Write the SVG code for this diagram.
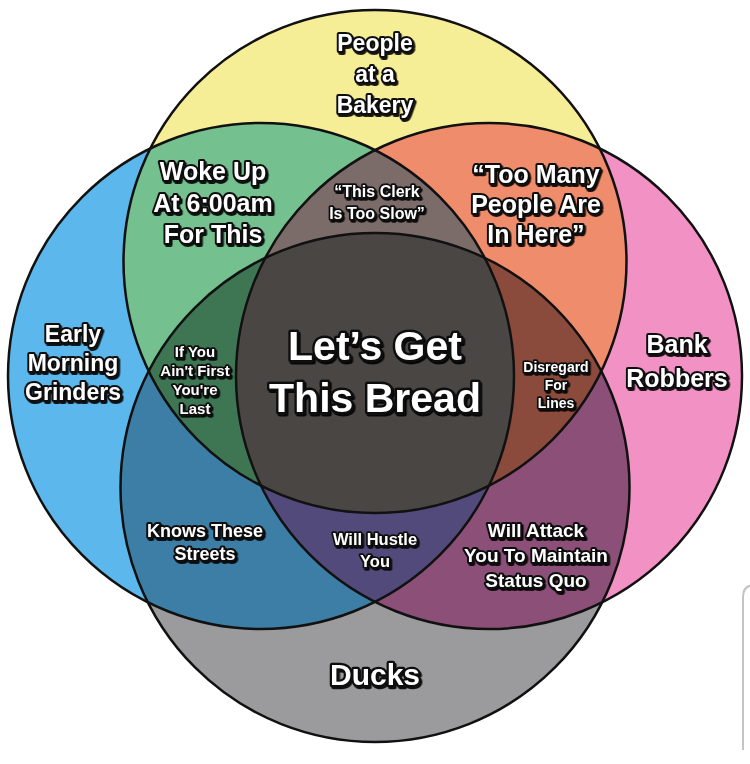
<svg xmlns="http://www.w3.org/2000/svg" width="750" height="764" viewBox="0 0 750 764">
<defs>
<clipPath id="cY"><circle cx="375" cy="261.5" r="251.5"/></clipPath>
<clipPath id="cB"><circle cx="261" cy="376" r="253"/></clipPath>
<clipPath id="cP"><circle cx="489" cy="376" r="253"/></clipPath>
<clipPath id="cG"><circle cx="375" cy="487.5" r="254.5"/></clipPath>
<filter id="sh" x="-10%" y="-10%" width="130%" height="140%">
<feDropShadow dx="1.5" dy="2" stdDeviation="0.6" flood-color="#000" flood-opacity="0.9"/>
</filter>
<style>
.lbl{font-family:"Liberation Sans",Arial,sans-serif;font-weight:bold;fill:#fff;stroke:#111;stroke-linejoin:round;paint-order:stroke;text-anchor:middle;filter:url(#sh)}
.ol{fill:none;stroke:#111;stroke-width:2.5}
</style>
</defs>
<rect width="750" height="764" fill="#fff"/>
<path d="M743 750 V597 Q743 585 755 585" fill="none" stroke="#c4c4c4" stroke-width="2"/>
<g id="regions">
<circle cx="375" cy="261.5" r="251.5" fill="#f6ee96"/>
<circle cx="261" cy="376" r="253" fill="#5cb8ec"/>
<circle cx="489" cy="376" r="253" fill="#f291c3"/>
<circle cx="375" cy="487.5" r="254.5" fill="#9b9b9d"/>
<g clip-path="url(#cY)"><circle cx="261" cy="376" r="253" fill="#74c08f"/><circle cx="489" cy="376" r="253" fill="#ef8c6c"/></g>
<g clip-path="url(#cG)"><circle cx="261" cy="376" r="253" fill="#3c7ea6"/><circle cx="489" cy="376" r="253" fill="#8c5078"/></g>
<g clip-path="url(#cY)"><g clip-path="url(#cB)"><circle cx="489" cy="376" r="253" fill="#7b6b69"/><circle cx="375" cy="487.5" r="254.5" fill="#3e7654"/></g></g>
<g clip-path="url(#cY)"><g clip-path="url(#cP)"><circle cx="375" cy="487.5" r="254.5" fill="#8a4a3c"/></g></g>
<g clip-path="url(#cB)"><g clip-path="url(#cP)"><circle cx="375" cy="487.5" r="254.5" fill="#514a7a"/></g></g>
<g clip-path="url(#cY)"><g clip-path="url(#cB)"><g clip-path="url(#cP)"><circle cx="375" cy="487.5" r="254.5" fill="#4a4644"/></g></g></g>
</g>
<g id="connectors">
<circle class="ol" cx="375" cy="261.5" r="251.5"/>
<circle class="ol" cx="261" cy="376" r="253"/>
<circle class="ol" cx="489" cy="376" r="253"/>
<circle class="ol" cx="375" cy="487.5" r="254.5"/>
</g>
<g id="bakery"><text class="lbl" font-size="23" stroke-width="4"><tspan x="375" y="51">People</tspan><tspan x="375" y="82">at a</tspan><tspan x="375" y="113">Bakery</tspan></text></g>
<g id="woke"><text class="lbl" font-size="25" stroke-width="4"><tspan x="213" y="180">Woke Up</tspan><tspan x="213" y="212">At 6:00am</tspan><tspan x="213" y="243">For This</tspan></text></g>
<g id="clerk"><text class="lbl" font-size="16" stroke-width="3.5"><tspan x="377" y="197">“This Clerk</tspan><tspan x="377" y="219">Is Too Slow”</tspan></text></g>
<g id="toomany"><text class="lbl" font-size="25" stroke-width="4"><tspan x="536" y="183">“Too Many</tspan><tspan x="536" y="213">People Are</tspan><tspan x="536" y="243">In Here”</tspan></text></g>
<g id="early"><text class="lbl" font-size="23" stroke-width="4"><tspan x="73" y="342">Early</tspan><tspan x="73" y="371">Morning</tspan><tspan x="73" y="400">Grinders</tspan></text></g>
<g id="first"><text class="lbl" font-size="15" stroke-width="3.5"><tspan x="195" y="357">If You</tspan><tspan x="195" y="376">Ain't First</tspan><tspan x="195" y="395">You're</tspan><tspan x="195" y="414">Last</tspan></text></g>
<g id="bread"><text class="lbl" font-size="41" stroke-width="5"><tspan x="375" y="360">Let’s Get</tspan><tspan x="375" y="412">This Bread</tspan></text></g>
<g id="disregard"><text class="lbl" font-size="14" stroke-width="3.5"><tspan x="556" y="372">Disregard</tspan><tspan x="556" y="390">For</tspan><tspan x="556" y="408">Lines</tspan></text></g>
<g id="bank"><text class="lbl" font-size="25" stroke-width="4"><tspan x="677" y="353">Bank</tspan><tspan x="677" y="387">Robbers</tspan></text></g>
<g id="streets"><text class="lbl" font-size="18" stroke-width="4"><tspan x="205" y="537">Knows These</tspan><tspan x="205" y="560">Streets</tspan></text></g>
<g id="hustle"><text class="lbl" font-size="16.5" stroke-width="3.5"><tspan x="375" y="545">Will Hustle</tspan><tspan x="375" y="567">You</tspan></text></g>
<g id="attack"><text class="lbl" font-size="19" stroke-width="4"><tspan x="536" y="537">Will Attack</tspan><tspan x="536" y="562">You To Maintain</tspan><tspan x="536" y="587">Status Quo</tspan></text></g>
<g id="ducks"><text class="lbl" font-size="30" stroke-width="4.5"><tspan x="375" y="685">Ducks</tspan></text></g>
</svg>
